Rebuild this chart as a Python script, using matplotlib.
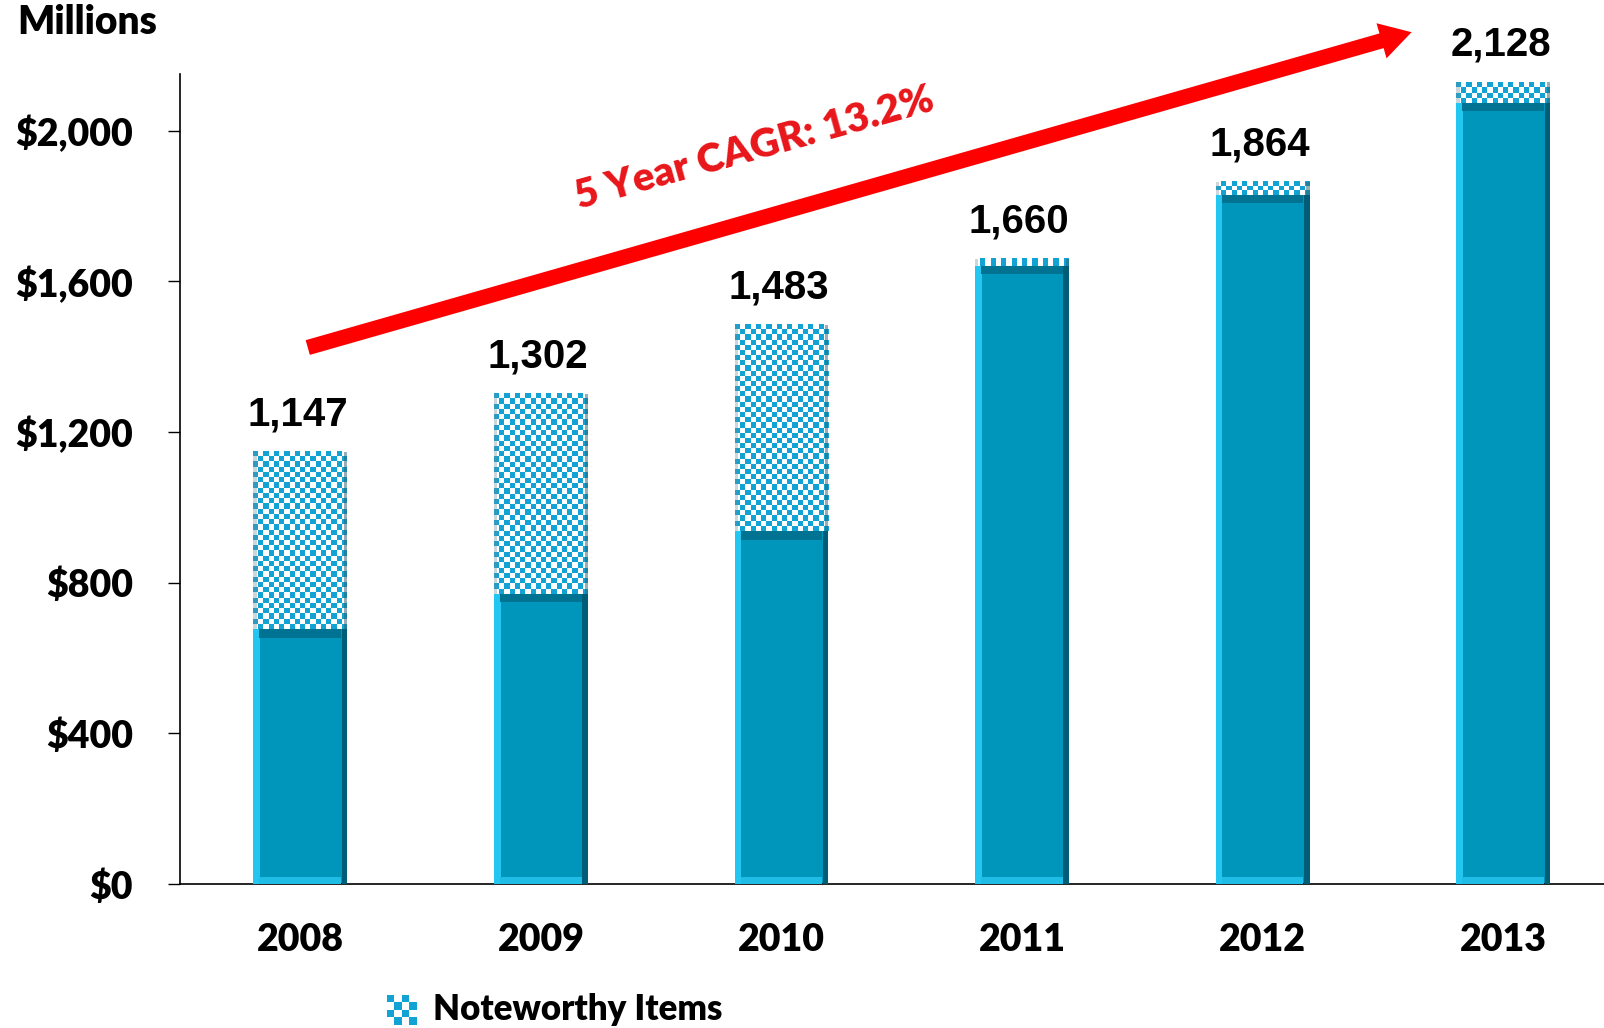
import numpy as np
import matplotlib
matplotlib.use("Agg")
import matplotlib.pyplot as plt
from matplotlib.patches import Rectangle

plt.rcParams['font.family'] = ['Lato', 'DejaVu Sans']
plt.rcParams['font.weight'] = 'heavy'

years = ["2008", "2009", "2010", "2011", "2012", "2013"]
base = [676, 771, 936, 1640, 1829, 2073]
totals = [1147, 1302, 1483, 1660, 1864, 2128]
noteworthy = [t - b for t, b in zip(totals, base)]
yticks = [0, 400, 800, 1200, 1600, 2000]
cagr_label = "5 Year CAGR: 13.2%"

SOLID = "#0096bc"
LIGHT = "#22c6f0"
DARK = "#005d77"
CHECK_BLUE = "#12a2d4"

fig = plt.figure(figsize=(16.04, 10.28), dpi=100)
ax = fig.add_axes([0.1122, 0.140, 0.888, 0.788])

x = np.arange(len(years))
w = 0.39
ymax = 2150

# square size of the checker fill, in data units
sq_y = 13.8


def checker_img(rows, cols):
    grid = (np.add.outer(np.arange(rows), np.arange(cols)) % 2).astype(float)
    blue = np.array(matplotlib.colors.to_rgb(CHECK_BLUE))
    white = np.ones(3)
    return np.where(grid[..., None] > 0, blue, white)


for xi, b, n in zip(x, base, noteworthy):
    x0 = xi - w / 2
    # solid part with bevelled edges
    ax.bar(xi, b, w, color=SOLID, zorder=2)
    ax.bar(xi - w / 2 + w * 0.035, b, w * 0.07, color=LIGHT, zorder=3)
    ax.bar(xi + w / 2 - w * 0.03, b, w * 0.06, color=DARK, zorder=3)
    ax.bar(xi, 22, w * 0.87, bottom=b - 22, color="#007393", zorder=3)
    ax.bar(xi, 18, w * 0.87, bottom=0, color="#1fbde6", zorder=3)

    # checker part for noteworthy items
    rows = max(1, int(round(n / sq_y)))
    img = checker_img(rows, 18)
    ax.imshow(img, extent=(x0, x0 + w, b, b + n), aspect='auto',
              interpolation='nearest', origin='lower', zorder=2)
    ax.add_patch(Rectangle((x0, b), w * 0.035, n, color="#6a8f9a",
                           alpha=0.35, lw=0, zorder=3))
    ax.add_patch(Rectangle((x0 + w * 0.965, b), w * 0.035, n,
                           color="#2e5f6e", alpha=0.5, lw=0, zorder=3))

for xi, t in zip(x, totals):
    ax.annotate(f"{t:,}", (xi, t), xytext=(-2, 27), textcoords='offset points',
                ha='center', va='center', fontsize=29, fontweight='bold',
                family='Liberation Sans', annotation_clip=False)

ax.set_xlim(-0.5, 5.42)
ax.set_ylim(0, ymax)
ax.set_xticks(x)
ax.set_xticklabels(years, fontsize=27, fontweight='heavy')
ax.set_yticks(yticks)
ax.set_yticklabels([f"${v:,}" for v in yticks], fontsize=27, fontweight='heavy')
ax.tick_params(axis='x', length=0, pad=28)
ax.tick_params(axis='y', length=9, width=1, direction='out', pad=25)
ax.spines['top'].set_visible(False)
ax.spines['right'].set_visible(False)
ax.spines['left'].set_linewidth(1.2)
ax.spines['bottom'].set_linewidth(1.2)

# growth arrow with CAGR label
ax.annotate("", xy=(4.63, 2263), xytext=(0.02, 1422),
            arrowprops=dict(arrowstyle='simple,head_length=0.9,head_width=1.05,tail_width=0.44',
                            mutation_scale=25, color='#ff0000', lw=0),
            annotation_clip=False, zorder=5)
ax.text(1.89, 1953, cagr_label, color='#e8161a', fontsize=29, fontweight='heavy',
        rotation=15.5, rotation_mode='anchor', ha='center', va='center', zorder=5)

fig.text(0.011, 1 - 22.5 / 1028, "Millions", fontsize=28, fontweight='heavy',
         ha='left', va='center')

# legend swatch
lax = fig.add_axes([387 / 1604, 1 - 1025 / 1028, 30 / 1604, 30 / 1028])
lax.imshow(checker_img(4, 4), interpolation='nearest', origin='lower', aspect='auto')
lax.axis('off')
fig.text(433 / 1604, 1 - 1010 / 1028, "Noteworthy Items", fontsize=25,
         fontweight='heavy', ha='left', va='center')

fig.savefig("out.png", dpi=100, facecolor='white')
